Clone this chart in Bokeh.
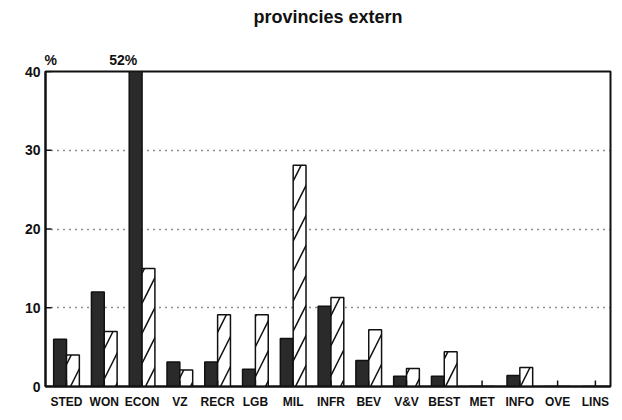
from bokeh.plotting import figure
from bokeh.models import Range1d, FixedTicker, LinearAxis
from bokeh.embed import file_html
from bokeh.resources import INLINE
import numpy as np

title_text = "provincies extern"
categories = ["STED", "WON", "ECON", "VZ", "RECR", "LGB", "MIL", "INFR",
              "BEV", "V&V", "BEST", "MET", "INFO", "OVE", "LINS"]
series_dark = [6, 12, 52, 3.1, 3.1, 2.2, 6.1, 10.2, 3.3, 1.3, 1.3, 0, 1.4, 0, 0]
series_hatched = [4, 7, 15, 2.1, 9.1, 9.1, 28.1, 11.3, 7.2, 2.3, 4.4, 0, 2.4, 0, 0]
y_ticks = [0, 10, 20, 30, 40]

FONT = "Liberation Sans"
INK = "#111111"

idx = np.arange(len(categories))
bw = 0.34
off = bw / 2
x_start, x_end = -0.556, 14.4

p = figure(width=618, height=412, output_backend="svg", toolbar_location=None,
           x_range=Range1d(x_start, x_end), y_range=Range1d(0, 40),
           min_border_left=45, min_border_right=8, min_border_top=71,
           min_border_bottom=26)

p.vbar(x=idx - off, top=series_dark, width=bw, bottom=0,
       fill_color="#2a2a2a", line_color=INK, line_width=1.5)
p.vbar(x=idx + off, top=series_hatched, width=bw, bottom=0,
       fill_color="white", line_color=INK, line_width=1.5,
       hatch_pattern="/", hatch_scale=30, hatch_weight=1.5, hatch_color=INK)

# inward tick marks (half of each dash is clipped away by the frame)
p.scatter(x=idx, y=[0] * len(idx), marker="dash", angle=np.pi / 2, size=12,
          line_color=INK, line_width=1.5)
p.scatter(x=[x_start] * len(y_ticks), y=y_ticks, marker="dash", size=12,
          line_color=INK, line_width=1.5)

p.outline_line_color = INK
p.outline_line_width = 2
p.background_fill_color = "white"
p.border_fill_color = "white"

p.xgrid.visible = False
p.ygrid.ticker = FixedTicker(ticks=[10, 20, 30])
p.ygrid.grid_line_color = "#222222"
p.ygrid.grid_line_dash = "1 5"
p.ygrid.grid_line_width = 1.3

for ax in (p.xaxis[0], p.yaxis[0]):
    ax.axis_line_color = INK
    ax.axis_line_width = 2
    ax.major_tick_line_color = None
    ax.minor_tick_line_color = None
    ax.major_tick_in = 0
    ax.major_tick_out = 0
    ax.major_label_text_font = FONT
    ax.major_label_text_font_style = "bold"
    ax.major_label_text_color = INK

p.xaxis.ticker = FixedTicker(ticks=list(idx))
p.xaxis.major_label_overrides = {int(i): c for i, c in zip(idx, categories)}
p.xaxis.major_label_text_font_size = "12px"
p.xaxis.major_label_standoff = 8

p.yaxis.ticker = FixedTicker(ticks=y_ticks)
p.yaxis.major_label_text_font_size = "14px"
p.yaxis.major_label_standoff = 5


def text_axis(ticks, labels, size, standoff):
    ax = LinearAxis(ticker=FixedTicker(ticks=ticks),
                    major_label_overrides=dict(zip(ticks, labels)))
    ax.axis_line_color = None
    ax.major_tick_line_color = None
    ax.minor_tick_line_color = None
    ax.major_tick_in = 0
    ax.major_tick_out = 0
    ax.major_label_standoff = standoff
    ax.major_label_text_font = FONT
    ax.major_label_text_font_style = "bold"
    ax.major_label_text_font_size = size
    ax.major_label_text_color = INK
    return ax


# top annotations: "%" unit marker and the clipped ECON value
econ_i = categories.index("ECON")
p.add_layout(text_axis([-0.42, 1.5], ["%", f"{series_dark[econ_i]}%"], "14px", 4), "above")
# chart title, centred over the plot frame
mid = round((x_start + x_end) / 2, 3)
p.add_layout(text_axis([mid], [title_text], "18px", 22), "above")

open("out.html", "w").write(file_html(p, INLINE))
